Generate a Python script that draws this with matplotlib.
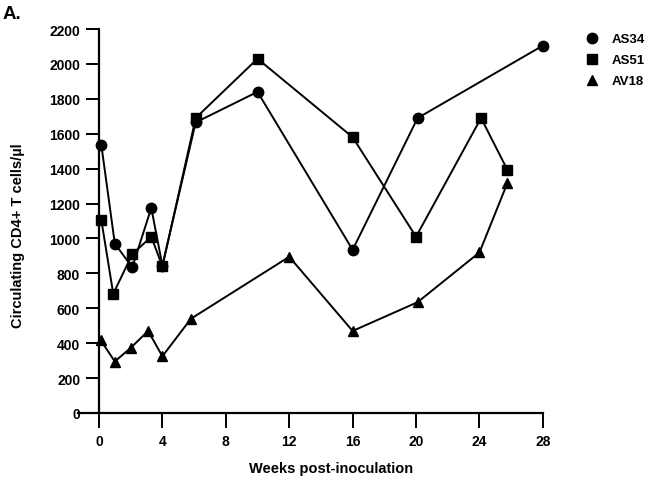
import matplotlib
matplotlib.use("Agg")
import matplotlib.pyplot as plt

plt.rcParams['font.family'] = ['Liberation Sans', 'DejaVu Sans']
plt.rcParams['font.weight'] = 'bold'

# weeks post-inoculation and CD4+ counts
as34_weeks = [0.15, 1.0, 2.1, 3.3, 4.0, 6.1, 10.0, 16.0, 20.1, 28.0]
as34_cd4 = [1535, 970, 835, 1175, 845, 1665, 1840, 935, 1690, 2105]

as51_weeks = [0.15, 0.9, 2.1, 3.3, 4.0, 6.1, 10.0, 16.0, 20.0, 24.1, 25.75]
as51_cd4 = [1105, 683, 910, 1010, 840, 1690, 2030, 1580, 1010, 1690, 1395]

av18_weeks = [0.1, 1.0, 2.0, 3.1, 4.0, 5.8, 12.0, 16.0, 20.1, 24.0, 25.75]
av18_cd4 = [418, 295, 373, 470, 325, 540, 895, 470, 635, 920, 1315]

xticks = [0, 4, 8, 12, 16, 20, 24, 28]
yticks = list(range(0, 2201, 200))

fig = plt.figure(figsize=(6.49, 4.81), dpi=100)
ax = fig.add_axes([0.1525, 0.1393, 0.684, 0.7983])

series = [
    (as34_weeks, as34_cd4, 'o', 'AS34'),
    (as51_weeks, as51_cd4, 's', 'AS51'),
    (av18_weeks, av18_cd4, '^', 'AV18'),
]
for wk, val, mk, name in series:
    ax.plot(wk, val, color='black', lw=1.4, marker=mk, ms=7.5,
            label=name, clip_on=False, zorder=3)

ax.set_xlim(0, 28)
ax.set_ylim(0, 2200)
ax.set_xticks(xticks)
ax.set_yticks(yticks)
ax.tick_params(axis='both', direction='out', width=1.4, labelsize=10, pad=4)
ax.tick_params(axis='x', length=11)
ax.tick_params(axis='y', length=9.5)
for s in ['top', 'right']:
    ax.spines[s].set_visible(False)
for s in ['left', 'bottom']:
    ax.spines[s].set_linewidth(1.6)
ax.spines['left'].set_bounds(0, 2200)
# the zero tick on the y axis runs on from the x axis line
ax.spines['bottom'].set_bounds(-1.3, 28)

ax.set_xlabel('Weeks post-inoculation', fontsize=10.5, fontweight='bold')
ax.set_ylabel('Circulating CD4+ T cells/µl', fontsize=10.5, fontweight='bold')
ax.xaxis.set_label_coords(0.5225, -0.125)
ax.yaxis.set_label_coords(-0.166, 0.4635)

leg = ax.legend(loc='upper left', bbox_to_anchor=(585 / 649, 1 - 34 / 481),
                bbox_transform=fig.transFigure, frameon=False, borderpad=0,
                borderaxespad=0, handlelength=1.1, handletextpad=0.9,
                labelspacing=0.66, prop={'weight': 'bold', 'size': 9.5},
                numpoints=1)
for line in leg.get_lines():
    line.set_linestyle('none')

fig.text(3 / 649, 1 - 6 / 481, 'A.', fontsize=13.5, fontweight='bold', va='top')

fig.savefig('out.png', dpi=100)
